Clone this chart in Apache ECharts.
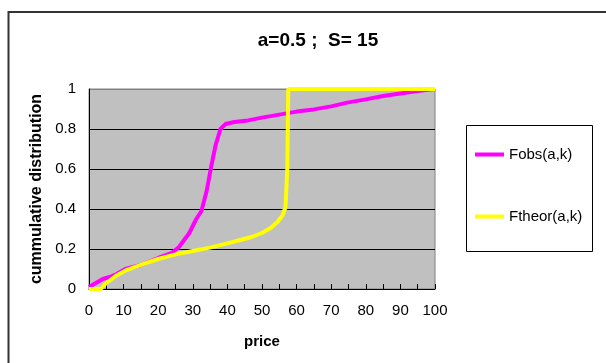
<!DOCTYPE html>
<html>
<head>
<meta charset="utf-8">
<script src="https://cdn.jsdelivr.net/npm/echarts@6/dist/echarts.min.js"></script>
<style>
  html, body { margin: 0; padding: 0; background: #fff; }
  #chart { width: 606px; height: 363px; }
</style>
</head>
<body>
<div id="chart"></div>
<script>
// Observed cumulative distribution Fobs(a,k)
var fobsPrice = [0, 2, 4, 6, 8, 10.5, 15, 20, 24, 26, 29, 31, 32.5, 34, 35.3, 36.6, 38, 39.5, 42, 46, 50, 55, 60, 65, 70, 75, 80, 85, 90, 95, 100];
var fobsValue = [0.01, 0.03, 0.05, 0.06, 0.075, 0.1, 0.12, 0.155, 0.18, 0.21, 0.28, 0.35, 0.39, 0.49, 0.61, 0.72, 0.80, 0.825, 0.835, 0.843, 0.857, 0.872, 0.887, 0.898, 0.913, 0.933, 0.948, 0.965, 0.978, 0.99, 1.0];

// Theoretical cumulative distribution Ftheor(a,k)
var ftheorPrice = [0, 3.4, 5, 7.7, 10.6, 15.4, 20, 25, 30, 35, 40, 44, 47, 50, 52.5, 54.5, 56, 56.8, 57.3, 57.6, 100];
var ftheorValue = [0, 0, 0.03, 0.065, 0.093, 0.123, 0.15, 0.173, 0.19, 0.207, 0.228, 0.246, 0.26, 0.28, 0.305, 0.335, 0.37, 0.41, 0.6, 1.0, 1.0];

var seriesNames = ['Fobs(a,k)', 'Ftheor(a,k)'];
var titleText = 'a=0.5 ;  S= 15';

function pairs(xs, ys) {
  return xs.map(function (x, i) { return [x, ys[i]]; });
}

var FONT = '"Liberation Sans", Arial, sans-serif';
var chart = echarts.init(document.getElementById('chart'), null, { renderer: 'canvas' });

chart.setOption({
  animation: false,
  backgroundColor: '#ffffff',
  textStyle: { fontFamily: FONT, color: '#000' },
  title: {
    text: titleText,
    left: 313,
    textAlign: 'center',
    top: 26,
    textStyle: { fontFamily: FONT, fontSize: 19, fontWeight: 'bold', color: '#000' }
  },
  graphic: [
    {
      type: 'rect',
      shape: { x: 8.5, y: 12, width: 700, height: 500 },
      style: { fill: 'none', stroke: '#333', lineWidth: 2 },
      silent: true, z: -10
    },
    {
      type: 'rect',
      shape: { x: 466.5, y: 125.5, width: 126, height: 126 },
      style: { fill: '#fff', stroke: '#000', lineWidth: 1 },
      silent: true, z: -5
    }
  ],
  legend: {
    orient: 'vertical',
    left: 470,
    top: 142,
    itemWidth: 29,
    itemHeight: 4,
    itemGap: 47,
    icon: 'rect',
    textStyle: { fontFamily: FONT, fontSize: 15, color: '#000' },
    data: seriesNames
  },
  grid: {
    left: 89, top: 89, width: 346, height: 200,
    show: true,
    backgroundColor: '#C0C0C0',
    borderColor: '#808080',
    borderWidth: 1
  },
  xAxis: {
    type: 'value',
    min: 0, max: 100, interval: 5,
    name: 'price',
    nameLocation: 'middle',
    nameGap: 45,
    nameTextStyle: { fontFamily: FONT, fontSize: 15, fontWeight: 'bold', color: '#000' },
    axisLine: { show: true, lineStyle: { color: '#000', width: 1 } },
    axisTick: { show: true, inside: true, length: 5, lineStyle: { color: '#000' } },
    axisLabel: {
      fontFamily: FONT, fontSize: 15, color: '#000', margin: 14,
      formatter: function (v) { return v % 10 === 0 ? String(v) : ''; }
    },
    splitLine: { show: false }
  },
  yAxis: {
    type: 'value',
    min: 0, max: 1, interval: 0.2,
    name: 'cummulative distribution',
    nameLocation: 'middle',
    nameGap: 44,
    nameRotate: 90,
    nameTextStyle: { fontFamily: FONT, fontSize: 16, fontWeight: 'bold', color: '#000' },
    axisLine: { show: true, lineStyle: { color: '#000', width: 1 } },
    axisTick: { show: false },
    axisLabel: { fontFamily: FONT, fontSize: 15, color: '#000', margin: 13 },
    splitLine: {
      show: true,
      lineStyle: { color: ['#000', '#000', '#000', '#000', '#000', '#808080'], width: 1 }
    }
  },
  series: [
    {
      name: seriesNames[0],
      type: 'line',
      data: pairs(fobsPrice, fobsValue),
      showSymbol: false,
      symbol: 'none',
      smooth: false,
      lineStyle: { color: '#FF00FF', width: 4 },
      itemStyle: { color: '#FF00FF' }
    },
    {
      name: seriesNames[1],
      type: 'line',
      data: pairs(ftheorPrice, ftheorValue),
      showSymbol: false,
      symbol: 'none',
      smooth: false,
      lineStyle: { color: '#FFFF00', width: 4 },
      itemStyle: { color: '#FFFF00' }
    }
  ]
});
</script>
</body>
</html>
